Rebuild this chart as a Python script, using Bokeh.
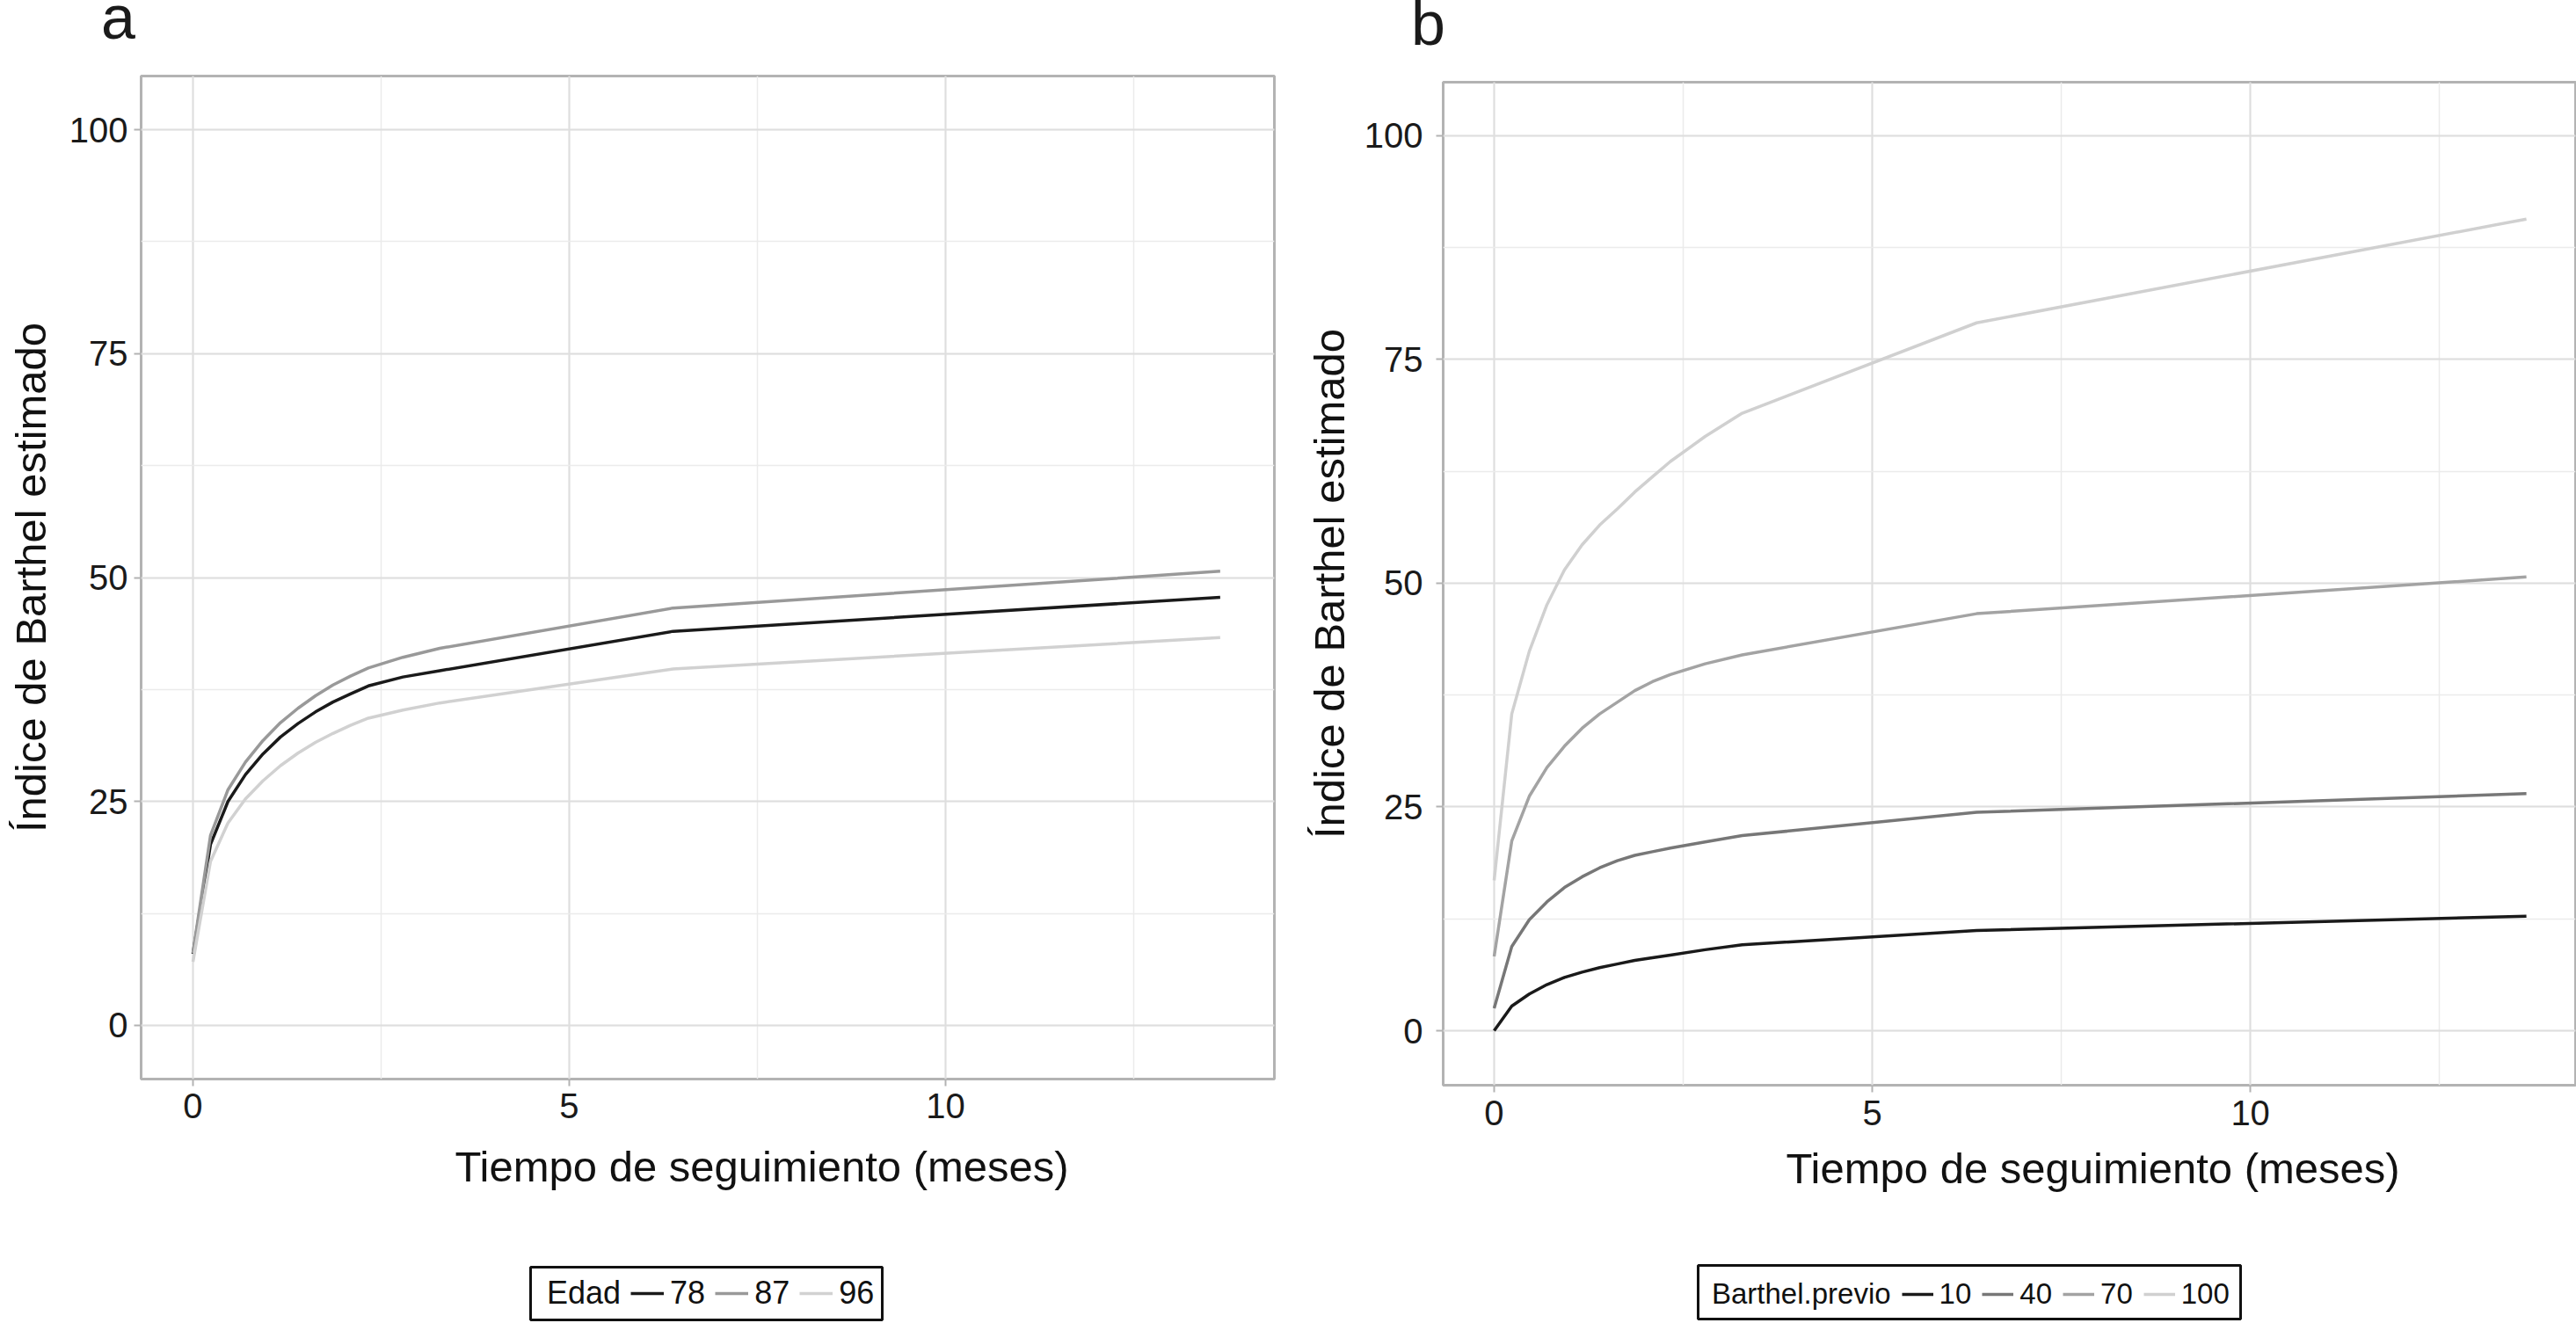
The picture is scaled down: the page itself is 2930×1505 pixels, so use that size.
from bokeh.plotting import figure
from bokeh.layouts import row, column
from bokeh.models import (Range1d, SingleIntervalTicker, Legend, LegendItem, Title, Div,
                          BoxAnnotation)
from bokeh.embed import file_html
from bokeh.resources import INLINE

# ---------------- data ----------------
tiempo = [0, 0.233, 0.465, 0.698, 0.93, 1.163, 1.395, 1.628, 1.86, 2.093,
          2.33, 2.79, 3.28, 6.38, 13.65]

edad_labels = ["78", "87", "96"]
edad_78 = [8.0, 20.2, 25.0, 28.0, 30.3, 32.2, 33.7, 35.0, 36.1, 37.0, 37.9, 38.9, 39.6, 44.0, 47.8]
edad_87 = [8.1, 21.2, 26.3, 29.4, 31.8, 33.8, 35.4, 36.8, 38.0, 39.0, 39.9, 41.1, 42.1, 46.6, 50.7]
edad_96 = [7.1, 18.3, 22.6, 25.3, 27.3, 29.0, 30.4, 31.6, 32.6, 33.5, 34.3, 35.2, 36.0, 39.8, 43.3]

barthel_labels = ["10", "40", "70", "100"]
barthel_10 = [0.0, 2.75, 4.1, 5.15, 5.95, 6.55, 7.05, 7.45, 7.85, 8.15, 8.45, 9.05, 9.6, 11.2, 12.8]
barthel_40 = [2.5, 9.4, 12.4, 14.4, 16.0, 17.2, 18.2, 19.0, 19.6, 20.0, 20.4, 21.1, 21.8, 24.4, 26.5]
barthel_70 = [8.3, 21.2, 26.2, 29.4, 31.8, 33.8, 35.4, 36.7, 38.0, 39.0, 39.8, 41.0, 42.0, 46.6, 50.7]
barthel_100 = [16.8, 35.4, 42.4, 47.6, 51.5, 54.3, 56.5, 58.3, 60.2, 61.9, 63.6, 66.4, 69.0, 79.1, 90.7]

FONT = "Liberation Sans"
X_TITLE = "Tiempo de seguimiento (meses)"
Y_TITLE = "Índice de Barthel estimado"


def new_fig(**kw):
    try:
        return figure(title=None, output_backend="svg", toolbar_location=None, **kw)
    except Exception:
        return figure(output_backend="svg", toolbar_location=None, **kw)


def make_fig(xr, yr, ml, mr, mt, mb, fw, fh, ylab_standoff, yaxis_standoff,
             xlab_standoff, xtitle_offset, xtitle_standoff):
    p = new_fig(frame_width=fw, frame_height=fh,
                x_range=Range1d(*xr), y_range=Range1d(*yr),
                min_border_left=ml, min_border_right=mr,
                min_border_top=mt, min_border_bottom=mb,
                background_fill_color="white", border_fill_color="white")
    p.xaxis.ticker = SingleIntervalTicker(interval=5, num_minor_ticks=2)
    p.yaxis.ticker = SingleIntervalTicker(interval=25, num_minor_ticks=2)
    for ax in (p.xaxis[0], p.yaxis[0]):
        ax.axis_line_color = None
        ax.major_tick_line_color = "#b3b3b3"
        ax.major_tick_line_width = 2
        ax.major_tick_out = 8
        ax.major_tick_in = 0
        ax.minor_tick_line_color = None
        ax.major_label_text_font = FONT
        ax.major_label_text_font_size = "40px"
        ax.major_label_text_color = "#1a1a1a"
        ax.axis_label_text_font = FONT
        ax.axis_label_text_font_size = "49px"
        ax.axis_label_text_font_style = "normal"
        ax.axis_label_text_color = "#111111"
    p.yaxis.major_label_standoff = ylab_standoff
    p.yaxis.axis_label_standoff = yaxis_standoff
    p.xaxis.major_label_standoff = xlab_standoff
    p.yaxis.axis_label = Y_TITLE
    # x-axis title, placed off-centre as in the reference
    p.add_layout(Title(text=X_TITLE, align="left", offset=xtitle_offset,
                       vertical_align="top", standoff=xtitle_standoff,
                       text_font=FONT, text_font_size="49px", text_font_style="normal",
                       text_color="#111111"), "below")
    for g in (p.xgrid[0], p.ygrid[0]):
        g.grid_line_color = "#dedede"
        g.grid_line_width = 2
        g.minor_grid_line_color = "#ebebeb"
        g.minor_grid_line_width = 1.5
    p.outline_line_color = "#b3b3b3"
    p.outline_line_width = 3
    return p


def legend_fig(w, h, title, labels, series, colors, loc, box, glyph_w, spacing, font_size):
    # the series are drawn far outside this strip's view: only their legend samples show
    f = new_fig(width=w, height=h, x_range=Range1d(1000, 1000 + w),
                y_range=Range1d(1000, 1000 + h),
                x_axis_location=None, y_axis_location=None, min_border=0,
                background_fill_color="white", border_fill_color="white")
    f.outline_line_color = None
    f.grid.visible = False
    dummy = f.line(x=[], y=[], line_alpha=0)
    items = [LegendItem(label=title, renderers=[dummy])]
    for lab, ys, c in zip(labels, series, colors):
        r = f.line(tiempo, ys, line_color=c, line_width=3.5)
        items.append(LegendItem(label=lab, renderers=[r]))
    leg = Legend(items=items, location=loc, orientation="horizontal",
                 glyph_width=glyph_w, glyph_height=20, label_standoff=7,
                 spacing=spacing, padding=5, margin=0,
                 label_text_font=FONT, label_text_font_size=font_size,
                 label_text_color="#111111",
                 border_line_color=None, background_fill_alpha=0.0)
    f.add_layout(leg)
    l, r_, b, t = box
    f.add_layout(BoxAnnotation(left=l, right=r_, bottom=b, top=t,
                               left_units="screen", right_units="screen",
                               bottom_units="screen", top_units="screen",
                               fill_alpha=0.0, line_color="#111111", line_width=3,
                               line_alpha=1.0))
    return f


# ---------------- panel letters ----------------
letters = Div(
    text=('<div style="position:relative;width:2930px;height:60px;margin:0;padding:0;'
          'font-family:\'Liberation Sans\',sans-serif;color:#1a1a1a;">'
          '<span style="position:absolute;left:115px;top:0px;font-size:70px;'
          'line-height:40px;">a</span>'
          '<span style="position:absolute;left:1605px;top:7px;font-size:70px;'
          'line-height:40px;">b</span></div>'),
    width=2930, height=60, margin=(0, 0, 0, 0))

# ---------------- panel a ----------------
cols_a = ["#1a1a1a", "#999999", "#d1d1d1"]
series_a = [edad_78, edad_87, edad_96]
pa = make_fig((-0.689, 14.37), (-5.99, 105.99), 160, 21, 26, 203, 1289, 1141,
              7, 14, 8, 357, 50)
for ys, c in zip(series_a, cols_a):
    pa.line(tiempo, ys, line_color=c, line_width=3.5, line_join="round")
la = legend_fig(1470, 75, "Edad", edad_labels, series_a, cols_a, (417, 13),
                (443, 843, 4, 64), 38, 11, "36px")

# ---------------- panel b ----------------
cols_b = ["#1a1a1a", "#777777", "#a3a3a3", "#d0d0d0"]
series_b = [barthel_10, barthel_40, barthel_70, barthel_100]
pb = make_fig((-0.674, 14.30), (-6.09, 105.99), 171, 1, 33, 196, 1288, 1141,
              15, 10, 9, 390, 38)
for ys, c in zip(series_b, cols_b):
    pb.line(tiempo, ys, line_color=c, line_width=3.5, line_join="round")
lb = legend_fig(1460, 75, "Barthel.previo", barthel_labels, series_b, cols_b, (263, 14),
                (290, 907, 5, 66), 36, 12, "33px")

layout = column(letters, row(column(pa, la), column(pb, lb)))
open("out.html", "w").write(file_html(layout, INLINE))
